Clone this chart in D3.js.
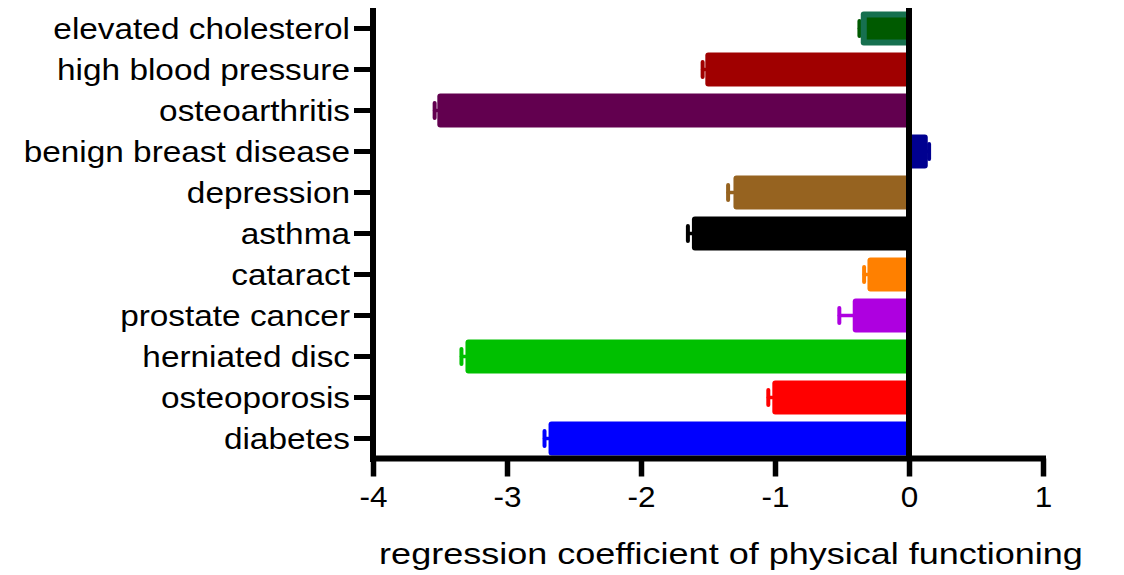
<!DOCTYPE html>
<html>
<head>
<meta charset="utf-8">
<script src="https://cdn.jsdelivr.net/npm/d3@7/dist/d3.min.js"></script>
<style>
  html, body { margin: 0; padding: 0; background: #fff; }
  svg { display: block; }
  text { font-family: "Liberation Sans", Arial, Helvetica, sans-serif; fill: #000; }
</style>
</head>
<body>
<svg id="chart" width="1124" height="575"></svg>
<script>
// ---- data ----
const categories = ["elevated cholesterol", "high blood pressure", "osteoarthritis",
  "benign breast disease", "depression", "asthma", "cataract", "prostate cancer",
  "herniated disc", "osteoporosis", "diabetes"];
const coefficients = [-0.36, -1.52, -3.52, 0.14, -1.31, -1.62, -0.31, -0.42, -3.31, -1.02, -2.69];
const errorEnds    = [-0.37, -1.54, -3.54, 0.15, -1.35, -1.65, -0.335, -0.52, -3.34, -1.05, -2.72];
const fillColors   = ["#005a00", "#a00000", "#62004f", "#000090", "#966320", "#000000",
  "#ff8000", "#ae00e0", "#00c000", "#ff0000", "#0000ff"];
const borderColors = ["#16704f", "#a00000", "#62004f", "#000090", "#966320", "#000000",
  "#ff8000", "#ae00e0", "#00c000", "#ff0000", "#0000ff"];
const xTicks = [-4, -3, -2, -1, 0, 1];
const xDomain = [-4, 1];
const xTitle = "regression coefficient of physical functioning";

const rows = categories.map((c, i) => ({
  cat: c, v: coefficients[i], e: errorEnds[i], fill: fillColors[i], border: borderColors[i]
}));

const svg = d3.select("#chart");
const x = d3.scaleLinear().domain(xDomain).range([373, 1043]);
const y = d3.scaleBand().domain(categories).range([8, 459]).paddingInner(0.17).paddingOuter(0.085);

// ---- bars ----
const g = svg.append("g");
const bars = g.selectAll("g.bar").data(rows).enter().append("g").attr("class", "bar");

// error whiskers
bars.append("line")
  .attr("x1", d => x(d.v)).attr("x2", d => x(d.e))
  .attr("y1", d => y(d.cat) + y.bandwidth() / 2).attr("y2", d => y(d.cat) + y.bandwidth() / 2)
  .attr("stroke", d => d.fill).attr("stroke-width", 3.5).attr("stroke-linecap", "round");
bars.append("line")
  .attr("x1", d => x(d.e)).attr("x2", d => x(d.e))
  .attr("y1", d => y(d.cat) + y.bandwidth() / 2 - 7.5).attr("y2", d => y(d.cat) + y.bandwidth() / 2 + 7.5)
  .attr("stroke", d => d.fill).attr("stroke-width", 4).attr("stroke-linecap", "round");

// outer rect (border colour)
bars.append("rect")
  .attr("x", d => Math.min(x(d.v), x(0)))
  .attr("width", d => Math.abs(x(d.v) - x(0)))
  .attr("y", d => y(d.cat))
  .attr("height", y.bandwidth())
  .attr("rx", 3)
  .attr("fill", d => d.border);
// inner rect (fill colour), inset where border differs
bars.filter(d => d.border !== d.fill).append("rect")
  .attr("x", d => Math.min(x(d.v), x(0)) + 6)
  .attr("width", d => Math.abs(x(d.v) - x(0)) - 6)
  .attr("y", d => y(d.cat) + 6)
  .attr("height", y.bandwidth() - 12)
  .attr("fill", d => d.fill);

// ---- zero line ----
svg.append("line")
  .attr("x1", x(0)).attr("x2", x(0)).attr("y1", 8).attr("y2", 459)
  .attr("stroke", "#000").attr("stroke-width", 6);

// ---- y axis ----
const yAxis = svg.append("g").attr("transform", "translate(373,0)")
  .call(d3.axisLeft(y).tickSize(19).tickPadding(4).tickSizeOuter(0));
yAxis.select(".domain").remove();
yAxis.append("line").attr("x1", 0).attr("x2", 0).attr("y1", 8).attr("y2", 462)
  .attr("stroke", "#000").attr("stroke-width", 6);
yAxis.selectAll(".tick line").attr("stroke", "#000").attr("stroke-width", 5);
yAxis.selectAll(".tick text").attr("font-size", 29).attr("dy", "0.36em")
  .style("font-family", "'Liberation Sans', Arial, sans-serif").attr("fill", "#000");

// ---- x axis ----
const xAxis = svg.append("g").attr("transform", "translate(0,458.5)")
  .call(d3.axisBottom(x).tickValues(xTicks).tickFormat(d3.format("d")).tickSize(18).tickPadding(9).tickSizeOuter(0));
xAxis.select(".domain").remove();
xAxis.append("line").attr("x1", 370).attr("x2", 1046).attr("y1", 0).attr("y2", 0)
  .attr("stroke", "#000").attr("stroke-width", 6);
xAxis.selectAll(".tick line").attr("stroke", "#000").attr("stroke-width", 5.5);
xAxis.selectAll(".tick text").attr("font-size", 30)
  .style("font-family", "'Liberation Sans', Arial, sans-serif").attr("fill", "#000")
  .text(d => d < 0 ? "-" + Math.abs(d) : String(d));

// ---- x title ----
svg.append("text").attr("class", "xtitle")
  .attr("x", 731).attr("y", 564).attr("text-anchor", "middle")
  .attr("font-size", 30).text(xTitle);

// horizontal stretch to match the reference glyph proportions
function stretch(sel, k) {
  sel.each(function () {
    const w = this.getComputedTextLength();
    d3.select(this).attr("textLength", w * k).attr("lengthAdjust", "spacingAndGlyphs");
  });
}
stretch(yAxis.selectAll(".tick text"), 1.15);
stretch(xAxis.selectAll(".tick text"), 1.05);
stretch(svg.selectAll("text.xtitle"), 1.2);
</script>
</body>
</html>
